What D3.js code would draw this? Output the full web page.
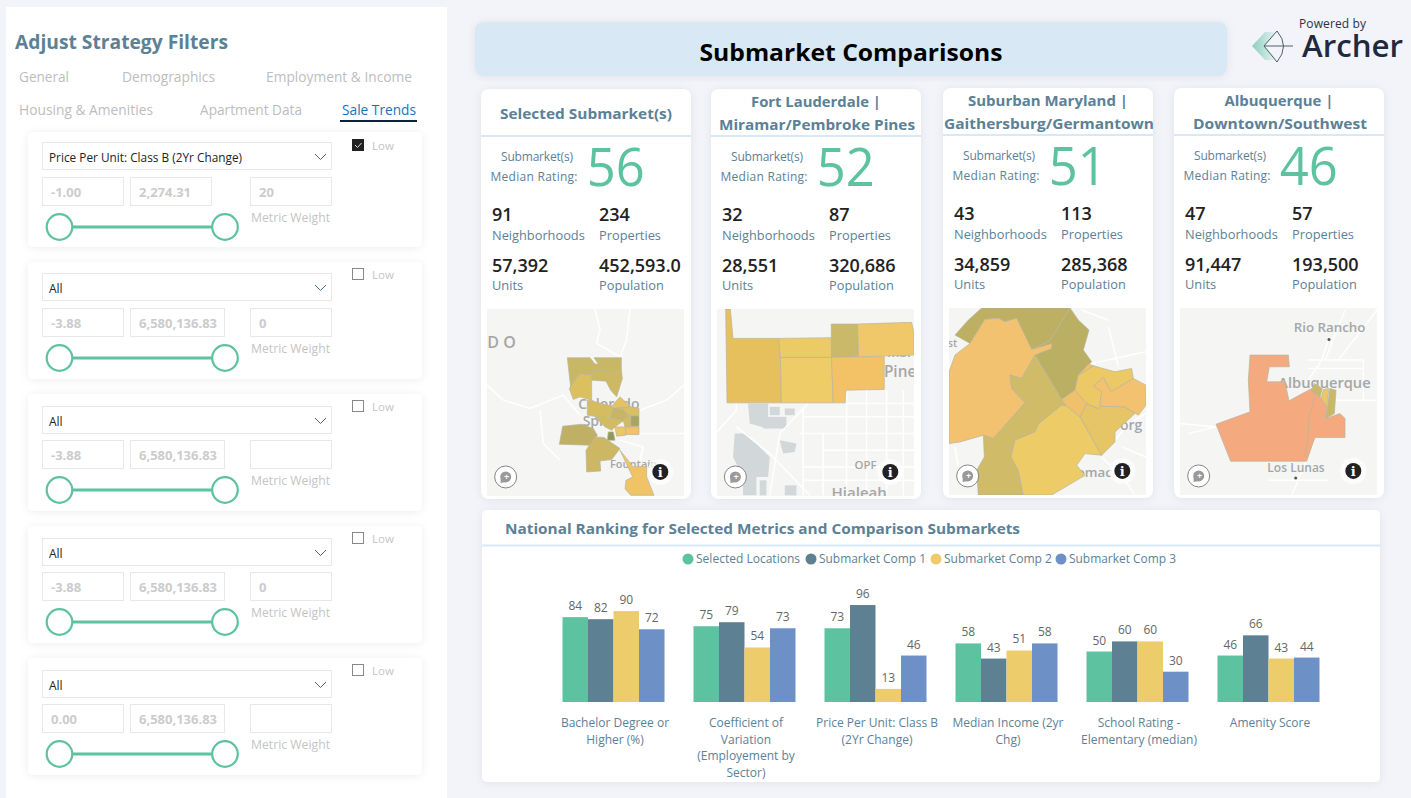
<!DOCTYPE html>
<html>
<head>
<meta charset="utf-8">
<script src="https://cdn.jsdelivr.net/npm/d3@7"></script>
<style>
  html, body { margin: 0; padding: 0; background: #f3f4f9; overflow: hidden; }
  text { font-family: "Open Sans", "Noto Sans", sans-serif; }
</style>
</head>
<body>
<div id="chart"></div>
<script>
// ---- chart values
var metrics = ["Bachelor Degree or Higher (%)", "Coefficient of Variation (Employement by Sector)", "Price Per Unit: Class B (2Yr Change)", "Median Income (2yr Chg)", "School Rating - Elementary (median)", "Amenity Score"];
var metricLines = [["Bachelor Degree or", "Higher (%)"], ["Coefficient of", "Variation", "(Employement by", "Sector)"], ["Price Per Unit: Class B", "(2Yr Change)"], ["Median Income (2yr", "Chg)"], ["School Rating -", "Elementary (median)"], ["Amenity Score"]];
var seriesNames = ["Selected Locations", "Submarket Comp 1", "Submarket Comp 2", "Submarket Comp 3"];
var selectedValues = [84, 75, 73, 58, 50, 46];
var comp1Values = [82, 79, 96, 43, 60, 66];
var comp2Values = [90, 54, 13, 51, 60, 43];
var comp3Values = [72, 73, 46, 58, 30, 44];
var seriesColors = ["#5dc2a0", "#5d8192", "#edcd6b", "#6d90c6"];

// ---- submarket cards
var cardTitles = [["Selected Submarket(s)"], ["Fort Lauderdale |", "Miramar/Pembroke Pines"], ["Suburban Maryland |", "Gaithersburg/Germantown"], ["Albuquerque |", "Downtown/Southwest"]];
var cardTitleWidths = [[172], [130, 196], [160, 210], [109, 174]];
var cardRatings = [56, 52, 51, 46];
var cardNeighborhoods = ["91", "32", "43", "47"];
var cardProperties = ["234", "87", "113", "57"];
var cardUnits = ["57,392", "28,551", "34,859", "91,447"];
var cardPopulation = ["452,593.0", "320,686", "285,368", "193,500"];
var cardLefts = [481, 711, 943, 1174];
var cardTops = [89, 89, 88, 88];

// ---- filter panel
var tabNames = ["General", "Demographics", "Employment & Income", "Housing & Amenities", "Apartment Data", "Sale Trends"];
var filterNames = ["Price Per Unit: Class B (2Yr Change)", "All", "All", "All", "All"];
var filterMins = ["-1.00", "-3.88", "-3.88", "-3.88", "0.00"];
var filterMaxs = ["2,274.31", "6,580,136.83", "6,580,136.83", "6,580,136.83", "6,580,136.83"];
var filterWeights = ["20", "0", "", "0", ""];
var filterLow = [true, false, false, false, false];

// ---- map shapes, in map units
var map1Shapes = [
  [[262,173],[330,173],[345,192],[355,192],[342,173],[424,173],[424,208],[345,210],[335,225],[300,222],[285,240],[272,262]],
  [[345,210],[424,208],[427,235],[410,290],[392,270],[378,243],[335,240],[335,225]],
  [[300,222],[335,225],[335,300],[300,290],[280,298],[268,265],[285,240]],
  [[322,300],[335,300],[345,305],[395,318],[400,325],[390,350],[365,352],[322,345]],
  [[395,318],[420,290],[452,320],[400,325]],
  [[400,325],[452,320],[477,325],[477,347],[445,347],[430,328]],
  [[400,325],[430,328],[445,347],[430,362],[390,352]],
  [[452,347],[477,347],[477,378],[452,378]],
  [[430,362],[445,347],[452,347],[452,378],[477,380],[435,380]],
  [[345,350],[365,352],[390,352],[430,362],[405,380],[395,390],[375,380]],
  [[405,380],[435,380],[437,405],[410,408]],
  [[437,380],[477,380],[477,403],[437,403]],
  [[385,395],[400,395],[405,420],[382,420]],
  [[248,378],[305,372],[340,385],[352,405],[330,435],[238,432]],
  [[345,410],[372,412],[420,445],[395,478],[360,482],[362,512],[320,515],[318,450]],
  [[420,450],[460,500],[500,498],[500,530],[522,585],[452,585],[435,565],[438,540],[458,530]]
];
var map1Colors = ["#c8b866", "#cdb863", "#dcc05f", "#d6bc60", "#e4c462", "#dabf62", "#c7b566", "#a7a55f", "#d1bb62", "#d4bb62", "#ecc767", "#f2c168", "#8f9a55", "#bfb065", "#cdb763", "#efc366"];
var map2Shapes = [
  [[738,27],[752,27],[760,115],[897,115],[902,172],[905,308],[742,308]],
  [[897,115],[1054,113],[1055,172],[902,172]],
  [[902,172],[1055,172],[1060,308],[905,308]],
  [[1054,72],[1133,72],[1136,170],[1055,172]],
  [[1133,72],[1295,67],[1302,100],[1302,165],[1136,170]],
  [[1055,172],[1136,170],[1213,170],[1213,268],[1098,270],[1096,308],[1060,308]]
];
var map2Colors = ["#e6c05b", "#ecca66", "#eecd69", "#cbb96a", "#f0c86a", "#f3c266"];
var map3Shapes = [
  [[140,24],[405,24],[345,122],[290,148],[260,90],[245,55],[210,65],[190,55],[150,58],[105,130],[60,105],[100,60]],
  [[405,24],[430,60],[462,90],[445,150],[470,185],[430,225],[420,270],[380,298],[300,165],[290,148],[345,122]],
  [[42,215],[60,165],[105,130],[150,58],[190,55],[210,65],[245,55],[290,148],[350,130],[350,145],[300,165],[260,235],[225,225],[230,265],[270,308],[215,370],[175,415],[145,405],[75,425],[42,430]],
  [[300,165],[380,298],[395,318],[380,315],[310,372],[300,395],[240,420],[228,470],[250,510],[265,584],[130,584],[125,510],[148,470],[145,405],[175,415],[215,370],[270,308],[230,265],[225,225],[260,235]],
  [[310,372],[380,315],[395,318],[435,350],[500,465],[450,460],[425,495],[450,525],[400,555],[350,584],[265,584],[250,510],[228,470],[240,420],[300,395]],
  [[435,350],[455,310],[490,325],[495,318],[570,320],[600,340],[540,395],[540,425],[500,465]],
  [[380,298],[420,270],[455,310],[435,350],[395,318]],
  [[430,225],[475,197],[540,215],[590,205],[595,235],[528,275],[505,232],[475,258],[500,275],[495,318],[490,325],[455,310],[420,270]],
  [[475,258],[505,232],[528,275],[595,235],[633,255],[633,315],[610,345],[570,320],[495,318],[500,275]],
  [[430,225],[460,192],[475,197]]
];
var map3Colors = ["#bdb064", "#bbaf64", "#f3c26f", "#cfbb68", "#edcc68", "#e5c565", "#f0c06c", "#ecc965", "#f3c26f", "#f0c16b"];
var map4Shapes = [
  [[945,165],[1060,165],[1063,200],[1003,200],[995,245],[1050,245],[1062,302],[1130,265],[1155,290],[1175,320],[1172,355],[1215,340],[1230,355],[1230,412],[1140,412],[1115,483],[887,483],[843,372],[945,335],[940,240]],
  [[1138,250],[1162,265],[1155,290],[1130,270]],
  [[1185,265],[1203,270],[1198,340],[1172,355]],
  [[1165,268],[1182,265],[1175,320],[1158,295]]
];
var map4Colors = ["#f5a97f", "#c9b866", "#c9b866", "#ecc865"];
var map4Borders = [[[1130,270],[1140,290],[1120,360],[1120,410],[1110,470]]];

var map1Roads = [[[345,27],[360,90],[350,130],[420,170]],[[21,255],[70,300],[150,325],[250,285],[300,345]],[[480,330],[560,300],[612,255]],[[477,400],[612,400]],[[180,330],[190,430],[240,480]],[[450,27],[440,120],[420,170]],[[420,420],[490,440],[480,480]]];
var map2Roads = [[[712,395],[770,330],[770,310]],[[770,380],[870,460],[990,585]],[[985,310],[900,400],[870,585]],[[1100,275],[1100,585]],[[970,330],[970,585]],[[1030,400],[1030,585]],[[1160,270],[1160,585]],[[1220,270],[1220,585]],[[1270,270],[1270,585]],[[970,350],[1302,350]],[[960,400],[1302,400]],[[1030,450],[1302,450]],[[970,500],[1302,500]],[[970,540],[1302,540]],[[1100,310],[1302,310]]];
var map3Roads = [[[470,190],[633,155]],[[520,80],[550,200]],[[540,420],[580,370],[633,340]],[[500,470],[570,540],[600,584]],[[560,440],[633,470]],[[60,440],[70,500]],[[440,30],[520,60]]];
var map4Roads = [[[735,370],[843,380],[760,400]],[[1180,120],[1160,180],[1120,240]],[[1120,205],[1285,205]],[[1120,180],[1285,180]],[[1285,180],[1285,300]],[[1200,300],[1326,300]],[[1140,420],[1090,540],[1070,584]],[[1230,30],[1170,180]],[[1326,30],[1210,180]],[[1000,540],[1180,540]]];
var map2Blocks = [
  [[805,310],[865,310],[865,385],[810,370]],[[870,320],[900,320],[900,345],[870,345]],[[915,325],[945,325],[945,345],[915,345]],[[850,350],[920,350],[920,385],[850,385]],
  [[765,400],[800,400],[870,470],[865,530],[830,530],[830,585],[790,585],[790,530],[760,470]],[[900,420],[950,430],[945,455],[910,460]],[[915,555],[950,555],[950,585],[915,585]],[[840,540],[860,540],[860,585],[840,585]]
];

var maps = [
  { shapes: map1Shapes, colors: map1Colors, roads: map1Roads, blocks: [], borders: [], x: [21, 612], y: [27, 587], px: [487, 684], py: [309, 496],
    labels: [["D O", 22, 145, 48], ["Colorado", 295, 325, 42], ["Spr", 308, 378, 42], ["Fountain", 390, 503, 33]], info: [541, 515], lens: [77, 530] },
  { shapes: map2Shapes, colors: map2Colors, roads: map2Roads, blocks: map2Blocks, borders: [], x: [712, 1302], y: [27, 587], px: [717, 914], py: [309, 496],
    labels: [["Pine", 1212, 231, 46], ["mbr", 1222, 172, 38], ["OPF", 1124, 505, 34], ["Hialeah", 1055, 592, 45]], info: [1231, 515], lens: [767, 530] },
  { shapes: map3Shapes, colors: map3Colors, roads: map3Roads, blocks: [], borders: [], x: [42, 633], y: [24, 584], px: [949, 1146], py: [308, 495],
    labels: [["est", 20, 142, 32], ["org", 555, 390, 42], ["omac", 425, 530, 40]], info: [562, 512], lens: [98, 527] },
  { shapes: map4Shapes, colors: map4Colors, roads: map4Roads, blocks: [], borders: map4Borders, x: [735, 1326], y: [24, 584], px: [1180, 1377], py: [308, 495],
    labels: [["Rio Rancho", 1076, 95, 40], ["Albuquerque", 1030, 263, 44], ["Los Lunas", 997, 515, 36]], info: [1255, 512], lens: [791, 527], dots: [[1182, 118], [1082, 533]] }
];

// ---- page
var blue = "#5b8197", paleBlue = "#d8e9f5", faint = "#c4c4c4";
var svg = d3.select("#chart").append("svg").attr("width", 1411).attr("height", 798).style("display", "block");
var defs = svg.append("defs");

var shadow = defs.append("filter").attr("id", "shadow").attr("x", "-10%").attr("y", "-10%").attr("width", "120%").attr("height", "120%");
shadow.append("feDropShadow").attr("dx", 0).attr("dy", 1).attr("stdDeviation", 4).attr("flood-color", "#000").attr("flood-opacity", 0.07);
defs.append("filter").attr("id", "soft").append("feGaussianBlur").attr("stdDeviation", 0.4);

svg.append("rect").attr("width", 1411).attr("height", 798).attr("fill", "#f3f4f9");

function label(g, str, x, y, size, color, weight, anchor) {
  return g.append("text").attr("x", x).attr("y", y).attr("font-size", size).attr("fill", color)
    .attr("font-weight", weight || 400).attr("text-anchor", anchor || "start").text(str);
}

// left panel
var left = svg.append("g");
left.append("rect").attr("x", 6).attr("y", 7).attr("width", 441).attr("height", 791).attr("fill", "#fff");
label(left, "Adjust Strategy Filters", 15, 49, 20, blue, 700).attr("textLength", 213).attr("lengthAdjust", "spacingAndGlyphs");

var tabX = [19, 122, 266, 19, 200, 342], tabY = [82, 82, 82, 115, 115, 115], tabW = [50, 93, 146, 134, 102, 74];
tabNames.forEach(function(t, i) {
  label(left, t, tabX[i], tabY[i], 14, i == 5 ? "#1d6fc0" : "#bdbdbd").attr("textLength", tabW[i]).attr("lengthAdjust", "spacingAndGlyphs");
});
left.append("rect").attr("x", 340).attr("y", 120).attr("width", 77).attr("height", 2).attr("fill", "#0d2138");

var cardY = [132, 262, 394, 526, 658], cardH = [115, 117, 117, 117, 117];
var dropY = [142, 273, 406, 538, 670], inputY = [177, 308, 440, 572, 704], sliderY = [227, 358, 490, 622, 754], lowY = [139, 268, 400, 532, 664];

filterNames.forEach(function(name, i) {
  var g = left.append("g");
  g.append("rect").attr("x", 28).attr("y", cardY[i]).attr("width", 394).attr("height", cardH[i]).attr("rx", 5).attr("fill", "#fff").attr("filter", "url(#shadow)");
  g.append("rect").attr("x", 42.5).attr("y", dropY[i] + .5).attr("width", 289).attr("height", 27).attr("fill", "#fff").attr("stroke", "#e8e8e8");
  var t = label(g, name, 49, dropY[i] + 20, 12, "#222");
  if (i == 0) t.attr("textLength", 193).attr("lengthAdjust", "spacingAndGlyphs");
  var cy = dropY[i] + 15;
  g.append("path").attr("d", d3.line()([[315, cy - 3], [320.5, cy + 2.5], [326, cy - 3]])).attr("fill", "none").attr("stroke", i == 1 ? "#3b6f9e" : "#6e5a50").attr("stroke-width", 1);

  var maxW = i == 0 ? 82 : 95;
  [[42, 82, filterMins[i]], [130, maxW, filterMaxs[i]], [250, 82, filterWeights[i]]].forEach(function(b) {
    g.append("rect").attr("x", b[0] + .5).attr("y", inputY[i] + .5).attr("width", b[1] - 1).attr("height", 28).attr("fill", "#fff").attr("stroke", "#e8e8e8");
    label(g, b[2], b[0] + 9, inputY[i] + 20, 13, "#cccccc", 700);
  });
  label(g, "Metric Weight", 251, inputY[i] + 44.5, 12, faint).attr("textLength", 79).attr("lengthAdjust", "spacingAndGlyphs");

  g.append("line").attr("x1", 72).attr("x2", 212).attr("y1", sliderY[i]).attr("y2", sliderY[i]).attr("stroke", "#5dc2a0").attr("stroke-width", 3);
  [59.5, 225].forEach(function(cx) {
    g.append("circle").attr("cx", cx).attr("cy", sliderY[i]).attr("r", 12.8).attr("fill", "#fff").attr("stroke", "#5dc2a0").attr("stroke-width", 2.2);
  });

  g.append("rect").attr("x", 352.5).attr("y", lowY[i] + .5).attr("width", 11).attr("height", 11)
    .attr("fill", filterLow[i] ? "#222" : "#fff").attr("stroke", filterLow[i] ? "#222" : "#888");
  if (filterLow[i]) g.append("path").attr("d", d3.line()([[355, lowY[i] + 6], [357.5, lowY[i] + 8.5], [361.5, lowY[i] + 4]])).attr("fill", "none").attr("stroke", "#ddd");
  label(g, "Low", 372, lowY[i] + 11, 11.5, faint);
});

// banner and logo
svg.append("rect").attr("x", 475).attr("y", 22).attr("width", 752).attr("height", 54).attr("rx", 8).attr("fill", paleBlue).attr("filter", "url(#shadow)");
label(svg, "Submarket Comparisons", 851, 61, 24, "#000", 700, "middle").attr("textLength", 303).attr("lengthAdjust", "spacingAndGlyphs");

var arrowGrad = defs.append("linearGradient").attr("id", "arrowGrad");
arrowGrad.append("stop").attr("offset", 0).attr("stop-color", "#5dc2a0").attr("stop-opacity", .7);
arrowGrad.append("stop").attr("offset", 1).attr("stop-color", "#5dc2a0").attr("stop-opacity", 0);
svg.append("path").attr("d", "M1252,46 L1265,32 L1278,32 L1264,46 L1278,60 L1265,60 Z").attr("fill", "url(#arrowGrad)");
svg.append("path").attr("d", "M1264,46 L1277,31 Q1290,46 1277,62 Z M1264,46 H1293").attr("fill", "none").attr("stroke", "#3c5058").attr("stroke-width", .9);
label(svg, "Powered by", 1299, 28, 12, "#2a3442").attr("textLength", 67);
label(svg, "Archer", 1302, 57, 31, "#1e2a3e", 600).attr("textLength", 101).attr("lengthAdjust", "spacingAndGlyphs");

// submarket cards
cardTitles.forEach(function(title, i) {
  var x = cardLefts[i], y = cardTops[i];
  var g = svg.append("g");
  g.append("rect").attr("x", x).attr("y", y).attr("width", 210).attr("height", 410).attr("rx", 8).attr("fill", "#fff").attr("filter", "url(#shadow)");
  g.append("rect").attr("x", x).attr("y", y + 46).attr("width", 210).attr("height", 2).attr("fill", paleBlue);
  if (title.length == 1) label(g, title[0], x + 105, y + 30, 15, blue, 700, "middle").attr("textLength", cardTitleWidths[i][0]).attr("lengthAdjust", "spacingAndGlyphs");
  else title.forEach(function(line, j) {
    label(g, line, x + 105 + j, y + 18 + j * 23, 15, blue, 700, "middle").attr("textLength", cardTitleWidths[i][j]).attr("lengthAdjust", "spacingAndGlyphs");
  });
  label(g, "Submarket(s)", x + 56, y + 72, 12, blue, 400, "middle").attr("textLength", 72);
  label(g, "Median Rating:", x + 53, y + 92, 12, blue, 400, "middle").attr("textLength", 87);
  label(g, cardRatings[i], x + 134.7, y + 97, 53, "#5dc2a0", 500, "middle").attr("textLength", 58).attr("lengthAdjust", "spacingAndGlyphs");
  [[x + 11, cardNeighborhoods[i], "Neighborhoods", 132, 151], [x + 118, cardProperties[i], "Properties", 132, 151], [x + 11, cardUnits[i], "Units", 183, 201], [x + 118, cardPopulation[i], "Population", 183, 201]].forEach(function(s) {
    label(g, s[1], s[0], y + s[3], 18, "#222", 600);
    label(g, s[2], s[0], y + s[4], 12.8, blue);
  });
});

// maps, drawn through per-map scales from map units to the page
maps.forEach(function(m, i) {
  var sx = d3.scaleLinear().domain(m.x).range(m.px);
  var sy = d3.scaleLinear().domain(m.y).range(m.py);
  var line = d3.line().x(function(d) { return sx(d[0]); }).y(function(d) { return sy(d[1]); });
  var scale = (m.px[1] - m.px[0]) / (m.x[1] - m.x[0]);

  defs.append("clipPath").attr("id", "map" + i).append("rect")
    .attr("x", m.px[0]).attr("y", m.py[0]).attr("width", m.px[1] - m.px[0]).attr("height", m.py[1] - m.py[0]);
  var g = svg.append("g").attr("clip-path", "url(#map" + i + ")");
  g.append("rect").attr("x", m.px[0]).attr("y", m.py[0]).attr("width", m.px[1] - m.px[0]).attr("height", m.py[1] - m.py[0]).attr("fill", "#f5f5f4");

  g.selectAll(".block").data(m.blocks).enter().append("path").attr("d", function(d) { return line(d) + "Z"; }).attr("fill", "#d2d8d9");
  g.selectAll(".road").data(m.roads).enter().append("path").attr("d", line).attr("fill", "none").attr("stroke", "#fff").attr("stroke-width", 1.5);
  (m.dots || []).forEach(function(d) { g.append("circle").attr("cx", sx(d[0])).attr("cy", sy(d[1])).attr("r", 1.5).attr("fill", "#555"); });
  m.labels.forEach(function(l) { label(g, l[0], sx(l[1]), sy(l[2]), l[3] * scale, "#a6a6a6", 600); });

  g.selectAll(".region").data(m.shapes).enter().append("path")
    .attr("d", function(d) { return line(d) + "Z"; })
    .attr("fill", function(d, j) { return m.colors[j]; })
    .attr("stroke", "#b8b49c").attr("stroke-width", .7).attr("filter", "url(#soft)");
  g.selectAll(".border").data(m.borders).enter().append("path").attr("d", line).attr("fill", "none").attr("stroke", "#b8b49c").attr("stroke-width", .7);

  // map buttons
  var lx = sx(m.lens[0]), ly = sy(m.lens[1]);
  g.append("circle").attr("cx", lx).attr("cy", ly).attr("r", 11).attr("fill", "#fff").attr("stroke", "#777").attr("stroke-width", .9);
  g.append("circle").attr("cx", lx).attr("cy", ly).attr("r", 5.5).attr("fill", "#999");
  g.append("path").attr("d", d3.line()([[lx - 5, ly + 2], [lx - 5, ly + 6], [lx, ly + 5]])).attr("fill", "#999");
  label(g, "+", lx + .8, ly + 3, 9, "#fff", 700, "middle");
  var ix = sx(m.info[0]), iy = sy(m.info[1]);
  g.append("circle").attr("cx", ix).attr("cy", iy).attr("r", 13).attr("fill", "#fff").attr("opacity", .7);
  g.append("circle").attr("cx", ix).attr("cy", iy).attr("r", 8).attr("fill", "#222");
  label(g, "i", ix, iy + 5, 13, "#fff", 700, "middle").style("font-family", '"DejaVu Serif", serif');
});

// ranking chart
var rank = svg.append("g");
rank.append("rect").attr("x", 482).attr("y", 510).attr("width", 898).attr("height", 272).attr("rx", 5).attr("fill", "#fff").attr("filter", "url(#shadow)");
rank.append("rect").attr("x", 482).attr("y", 544.5).attr("width", 898).attr("height", 2).attr("fill", paleBlue);
label(rank, "National Ranking for Selected Metrics and Comparison Submarkets", 505, 534, 15, blue, 700).attr("textLength", 515).attr("lengthAdjust", "spacingAndGlyphs");

var legendX = [688, 811, 936, 1061], legendW = [104, 107, 108, 107];
seriesNames.forEach(function(s, i) {
  rank.append("circle").attr("cx", legendX[i]).attr("cy", 559).attr("r", 5.5).attr("fill", seriesColors[i]);
  label(rank, s, legendX[i] + 8, 563, 12, blue).attr("textLength", legendW[i]).attr("lengthAdjust", "spacingAndGlyphs");
});

var allSeries = [selectedValues, comp1Values, comp2Values, comp3Values];
var x0 = d3.scaleBand().domain(metrics).range([548, 1334]).paddingInner(.2214).paddingOuter(.1107);
var x1 = d3.scaleBand().domain(d3.range(4)).range([0, x0.bandwidth()]);
var y = d3.scaleLinear().domain([0, 100]).range([702, 601]);

var groups = rank.selectAll(".group").data(metrics).enter().append("g")
  .attr("transform", function(d) { return "translate(" + x0(d) + ",0)"; });
allSeries.forEach(function(values, s) {
  groups.append("rect")
    .attr("x", x1(s)).attr("width", x1.bandwidth())
    .attr("y", function(d, i) { return y(values[i]); })
    .attr("height", function(d, i) { return y(0) - y(values[i]); })
    .attr("fill", seriesColors[s]);
  groups.append("text")
    .attr("x", x1(s) + x1.bandwidth() / 2)
    .attr("y", function(d, i) { return y(values[i]) - 7; })
    .attr("text-anchor", "middle").attr("font-size", 12).attr("fill", "#666")
    .text(function(d, i) { return values[i]; });
});

var axis = rank.append("g").attr("transform", "translate(0,702)")
  .call(d3.axisBottom(x0).tickSize(0).tickPadding(0));
axis.select(".domain").remove();
axis.selectAll(".tick text").each(function(d, i) {
  var t = d3.select(this).text(null).attr("y", 0).attr("dy", null).attr("font-size", 12).attr("fill", blue)
    .style("font-family", '"Open Sans", "Noto Sans", sans-serif');
  metricLines[i].forEach(function(l, j) {
    t.append("tspan").attr("x", 1.5).attr("y", 25 + j * 16.7).text(l);
  });
});
</script>
</body>
</html>
